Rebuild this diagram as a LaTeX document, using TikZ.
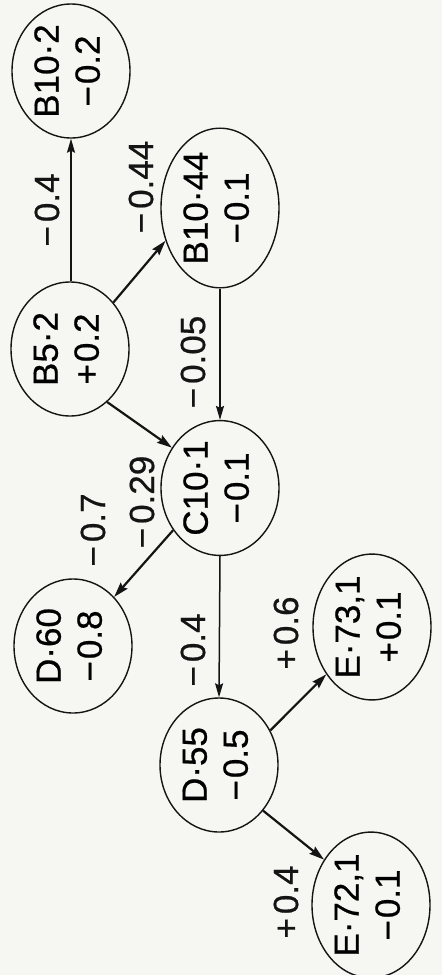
\documentclass[tikz,border=0pt]{standalone}
\usepackage{fontspec}
\setmainfont[FakeBold=0.6]{Liberation Sans}
\usetikzlibrary{shapes.geometric,arrows.meta}
\definecolor{paper}{HTML}{F6F7F2}
\definecolor{ink}{HTML}{141414}
\newcommand{\vlab}[1]{\rotatebox{90}{#1}}
\newcommand{\vtwo}[2]{\rotatebox{90}{\begin{tabular}{@{}c@{}}#1\\#2\end{tabular}}}
\begin{document}
\begin{tikzpicture}[x=1pt,y=-1pt,
  state/.style={draw=ink, line width=1.4pt, ellipse, inner sep=0pt,
    minimum width=118pt, minimum height=134pt,
    font=\fontsize{35}{41}\selectfont},
  elab/.style={inner sep=0pt, text=ink, font=\fontsize{35}{41}\selectfont},
  thin/.style={draw=ink, line width=1.5pt, -{Stealth[length=14pt,width=8pt,inset=2pt]}},
  thick/.style={draw=ink, line width=2.2pt, -{Stealth[length=15pt,width=9pt,inset=2pt]}}]
\fill[paper] (0,0) rectangle (442,975);
\useasboundingbox (0,0) rectangle (442,975);
% nodes
\node[state] (B102) at (71,71) {\vtwo{B10·2}{−\kern2pt0.2}};
\node[state] (B1044) at (220,208) {\vtwo{B10·44}{−\kern2pt0.1}};
\node[state] (B52) at (70,349) {\vtwo{B5·2}{+\kern2pt0.2}};
\node[state] (C101) at (220,488) {\vtwo{C10·1}{−\kern2pt0.1}};
\node[state] (D60) at (73,646) {\vtwo{D·60}{−\kern2pt0.8}};
\node[state] (D55) at (219,765) {\vtwo{D·55}{−\kern2pt0.5}};
\node[state] (E731) at (372,627) {\vtwo{E·73,1}{+\kern2pt0.1}};
\node[state] (E721) at (371,905) {\vtwo{E·72,1}{−\kern2pt0.1}};
% edges
\draw[thin] (B52.north -| B102.south) -- (B102.south);
\draw[thick] (B52.47) -- (B1044.211);
\draw[thin] (B1044.south) -- (C101.north);
\draw[thick] (B52.-55) -- (C101.140);
\draw[thick] (C101.222) -- (D60.50);
\draw[thin] (C101.south) -- (D55.north);
\draw[thick] (D55.34) -- (E731.226);
\draw[thick] (D55.-46) -- (E721.136);
% edge labels
\node[elab] (l1) at (47,210) {\vlab{−\kern4pt0.4}};
\node[elab] (l2) at (141,187) {\vlab{−\kern4pt0.44}};
\node[elab] (l3) at (193,362) {\vlab{−\kern4pt0.05}};
\node[elab] (l4) at (142,502) {\vlab{−\kern4pt0.29}};
\node[elab] (l5) at (93,530) {\vlab{−\kern4pt0.7}};
\node[elab] (l6) at (193,650) {\vlab{−\kern4pt0.4}};
\node[elab] (l7) at (286,633) {\vlab{+\kern4pt0.6}};
\node[elab] (l8) at (286,902) {\vlab{+\kern4pt0.4}};
\end{tikzpicture}
\end{document}
